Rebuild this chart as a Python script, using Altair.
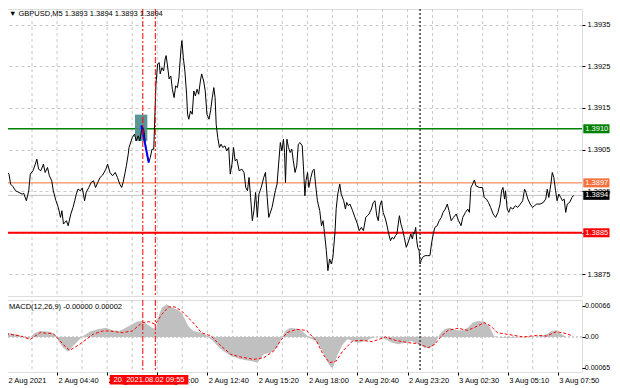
import json
import altair as alt
import pandas as pd

# ---------------- data ----------------
price_bar = [-0.6, 1.3, 2.3, 3.8, 5.5, 7.6, 9.7, 10.7, 12.4, 13.9, 14.9, 16.6, 18.1, 19.1, 20.2, 21.6, 23.3, 24.4,
             25.9, 27.1, 28.6, 29.6, 31.3, 32.8, 34.2, 35.1, 36.1, 38.0, 39.1, 40.8, 42.2, 43.3, 44.3, 45.4, 46.9,
             48.1, 49.6, 50.6, 52.3, 53.8, 55.3, 56.6, 58.0, 59.5, 61.2, 63.2, 64.3, 65.8, 67.5, 69.2, 70.6, 72.1,
             73.3, 74.2, 75.5, 76.3, 77.5, 78.0, 80.1, 81.5, 82.6, 83.9, 84.9, 86.4, 87.5, 88.5, 89.5, 90.6, 91.6,
             92.7, 93.8, 94.4, 95.2, 96.3, 97.3, 97.9, 99.0, 100.1, 101.1, 101.7, 102.6, 103.6, 104.7, 105.7, 106.8,
             107.8, 108.9, 109.9, 110.5, 111.2, 111.8, 112.7, 113.7, 114.8, 115.4, 116.2, 117.3, 118.4, 119.4, 120.4,
             121.5, 122.5, 123.6, 124.4, 125.7, 126.7, 127.8, 129.1, 130.1, 131.2, 132.2, 133.0, 133.7, 134.7, 135.8,
             136.8, 137.9, 139.3, 140.4, 141.7, 142.7, 143.8, 144.8, 145.8, 146.9, 148.4, 150.1, 151.5, 152.6, 153.7,
             154.7, 155.7, 156.8, 157.8, 158.9, 160.0, 161.0, 162.5, 164.1, 165.2, 166.3, 167.3, 169.4, 171.5, 172.6,
             173.6, 174.7, 175.7, 176.7, 177.4, 178.0, 178.9, 179.9, 181.0, 182.0, 183.0, 184.1, 185.2, 186.2, 187.3,
             188.7, 189.6, 190.4, 191.1, 192.1, 192.9, 194.2, 195.3, 196.3, 197.2, 198.4, 199.9, 201.0, 202.0, 203.0,
             204.1, 205.1, 206.2, 207.3, 208.3, 209.6, 210.4, 211.4, 212.7, 213.6, 215.2, 216.3, 217.1, 218.2, 219.2,
             220.9, 222.4, 224.0, 225.1, 226.5, 227.8, 229.3, 230.3, 231.4, 232.9, 234.1, 235.2, 236.3, 237.3, 238.3,
             239.4, 240.4, 241.9, 242.9, 244.0, 245.1, 246.1, 247.2, 248.2, 249.2, 250.8, 251.8, 253.0, 253.9, 255.2,
             256.0, 257.1, 258.1, 259.1, 259.8, 260.4, 261.2, 261.9, 262.5, 263.4, 264.0, 264.6, 265.6, 267.2, 268.6,
             270.3, 271.3, 272.4, 273.5, 274.9, 276.2, 277.6, 278.7, 280.1, 281.4, 282.5, 283.9, 285.4, 287.1, 288.6,
             290.2, 291.3, 293.0, 294.5, 295.5, 296.5, 297.6, 298.7, 299.7, 301.8, 303.9, 305.0, 306.4, 307.7, 309.1,
             310.7, 312.3, 313.8, 315.1, 316.1, 317.0, 318.0, 318.6, 319.7, 320.7, 321.8, 323.3, 324.9, 326.4, 328.1,
             329.6, 330.8, 331.7, 332.9, 334.4, 335.9, 337.1, 338.6, 340.7, 342.8, 344.3, 345.3, 346.3, 347.6, 348.5,
             349.5, 350.6, 351.6, 352.7, 353.9, 355.0, 356.1, 357.1, 358.1, 359.6, 361.1, 362.1]
price_close = [1.38997, 1.38991, 1.38967, 1.38961, 1.38951, 1.38947, 1.38943, 1.38945, 1.38927, 1.38951, 1.38991,
               1.38999, 1.39015, 1.39027, 1.39003, 1.38999, 1.39015, 1.38995, 1.39007, 1.38987, 1.38975, 1.38951,
               1.38927, 1.38911, 1.38887, 1.38903, 1.38871, 1.38879, 1.38867, 1.38895, 1.38911, 1.38927, 1.38943,
               1.38955, 1.38951, 1.38958, 1.38927, 1.38947, 1.38959, 1.38971, 1.38975, 1.38959, 1.38971, 1.38983,
               1.38989, 1.39003, 1.39015, 1.38995, 1.38987, 1.38995, 1.38983, 1.38967, 1.38959, 1.38971, 1.38995,
               1.39011, 1.39039, 1.39055, 1.39079, 1.39087, 1.39071, 1.39083, 1.39071, 1.39107, 1.39095, 1.39063,
               1.39039, 1.39019, 1.39031, 1.39051, 1.39051, 1.39119, 1.39208, 1.39256, 1.39259, 1.39232, 1.39247,
               1.39239, 1.39268, 1.39276, 1.39251, 1.39220, 1.39227, 1.39195, 1.39175, 1.39203, 1.39199, 1.39223,
               1.39256, 1.39292, 1.39312, 1.39271, 1.39239, 1.39183, 1.39135, 1.39123, 1.39143, 1.39135, 1.39191,
               1.39179, 1.39195, 1.39183, 1.39215, 1.39232, 1.39215, 1.39191, 1.39135, 1.39123, 1.39143, 1.39175,
               1.39199, 1.39175, 1.39111, 1.39079, 1.39055, 1.39063, 1.39055, 1.39059, 1.39047, 1.39055, 1.38991,
               1.39015, 1.39055, 1.39023, 1.39027, 1.38999, 1.39003, 1.38995, 1.38959, 1.38951, 1.38983, 1.38935,
               1.38879, 1.38903, 1.38947, 1.38887, 1.38943, 1.38959, 1.38983, 1.38995, 1.38935, 1.38887, 1.38911,
               1.38951, 1.38967, 1.39015, 1.39067, 1.39047, 1.39075, 1.39043, 1.38971, 1.39075, 1.39055, 1.39043,
               1.39051, 1.39023, 1.38995, 1.39011, 1.39063, 1.39067, 1.39059, 1.38999, 1.38939, 1.38975, 1.38995,
               1.38959, 1.38983, 1.38999, 1.39003, 1.38967, 1.38927, 1.38903, 1.38867, 1.38879, 1.38847, 1.38807,
               1.38759, 1.38787, 1.38775, 1.38791, 1.38850, 1.38908, 1.38943, 1.38967, 1.38943, 1.38927, 1.38907,
               1.38923, 1.38915, 1.38919, 1.38903, 1.38887, 1.38871, 1.38855, 1.38863, 1.38855, 1.38887, 1.38891,
               1.38895, 1.38907, 1.38923, 1.38927, 1.38891, 1.38879, 1.38915, 1.38927, 1.38899, 1.38883, 1.38867,
               1.38847, 1.38831, 1.38839, 1.38835, 1.38843, 1.38847, 1.38891, 1.38871, 1.38855, 1.38839, 1.38815,
               1.38823, 1.38835, 1.38847, 1.38835, 1.38851, 1.38847, 1.38863, 1.38831, 1.38815, 1.38807, 1.38775,
               1.38783, 1.38791, 1.38795, 1.38795, 1.38795, 1.38823, 1.38847, 1.38863, 1.38867, 1.38879, 1.38887,
               1.38899, 1.38907, 1.38919, 1.38903, 1.38879, 1.38887, 1.38895, 1.38879, 1.38867, 1.38887, 1.38899,
               1.38907, 1.38899, 1.38959, 1.38967, 1.38977, 1.38963, 1.38959, 1.38959, 1.38935, 1.38931, 1.38923,
               1.38911, 1.38895, 1.38887, 1.38899, 1.38919, 1.38951, 1.38959, 1.38931, 1.38951, 1.38907, 1.38899,
               1.38911, 1.38907, 1.38915, 1.38911, 1.38919, 1.38927, 1.38955, 1.38947, 1.38931, 1.38919, 1.38911,
               1.38915, 1.38919, 1.38919, 1.38923, 1.38931, 1.38955, 1.38935, 1.38967, 1.38995, 1.38983, 1.38951,
               1.38927, 1.38943, 1.38935, 1.38927, 1.38931, 1.38899, 1.38919, 1.38923, 1.38935, 1.38940]

hist_bar = [-0.6, 4.4, 9.7, 13.9, 17.0, 21.2, 27.5, 30.7, 32.8, 35.9, 39.1, 42.2, 45.4, 48.6, 52.8, 58.0, 63.3, 67.5,
            71.7, 75.9, 80.1, 83.2, 86.4, 89.5, 92.7, 95.2, 96.9, 99.0, 102.1, 105.3, 108.5, 111.6, 113.7, 115.8,
            119.0, 124.2, 128.4, 132.6, 136.8, 143.1, 149.4, 155.7, 160.0, 164.2, 168.4, 172.6, 175.1, 177.8, 181.0,
            187.3, 193.6, 196.7, 199.9, 203.0, 205.1, 207.2, 208.7, 211.4, 214.6, 217.7, 220.9, 225.1, 229.3, 233.5,
            237.7, 241.9, 246.1, 250.3, 254.5, 258.7, 262.9, 267.1, 270.3, 273.4, 276.6, 279.7, 282.9, 287.1, 291.3,
            294.5, 297.6, 300.8, 305.0, 308.1, 311.3, 315.5, 323.9, 332.3, 340.7, 344.9, 348.0, 351.2, 354.4, 357.5,
            361.7]
hist_val = [0.000092, 0.000071, 0.000021, -0.000050, 0.000071, 0.000128, 0.000114, 0.000057, -0.000085, -0.000227,
            -0.000312, -0.000192, -0.000085, 0.000021, 0.000114, 0.000163, 0.000199, 0.000142, 0.000128, 0.000199,
            0.000270, 0.000327, 0.000341, 0.000270, 0.000199, 0.000163, 0.000447, 0.000625, 0.000696, 0.000625,
            0.000589, 0.000518, 0.000376, 0.000234, 0.000128, 0.000092, 0.000021, -0.000121, -0.000263, -0.000405,
            -0.000476, -0.000511, -0.000547, -0.000369, -0.000334, -0.000227, -0.000050, 0.000128, 0.000199, 0.000163,
            -0.000028, -0.000071, -0.000192, -0.000405, -0.000547, -0.000653, -0.000618, -0.000369, -0.000156,
            -0.000050, -0.000085, -0.000121, -0.000085, -0.000014, 0.000007, -0.000050, -0.000121, -0.000156,
            -0.000121, -0.000085, -0.000156, -0.000227, -0.000241, -0.000156, 0.000057, 0.000163, 0.000199, 0.000142,
            0.000142, 0.000199, 0.000305, 0.000341, 0.000327, 0.000234, 0.000021, -0.000014, -0.000014, 0.000000,
            0.000014, 0.000057, 0.000128, 0.000142, 0.000057, 0.000000, 0.000000]

signal_bar = [-0.6, 8.6, 14.9, 21.2, 29.6, 38.0, 40.1, 46.5, 54.9, 61.2, 65.4, 73.8, 80.1, 86.4, 90.6, 94.8, 99.0,
              103.2, 107.4, 111.6, 115.8, 120.0, 124.2, 130.5, 136.8, 143.1, 149.4, 157.8, 164.2, 170.5, 174.7,
              178.9, 185.2, 191.5, 197.8, 202.0, 206.2, 210.4, 214.6, 220.9, 227.2, 233.5, 241.9, 248.2, 256.6,
              262.9, 269.2, 273.4, 277.6, 281.9, 288.2, 294.5, 300.8, 305.0, 309.2, 313.4, 319.7, 330.2, 338.6,
              344.9, 351.2, 357.5, 361.7]
signal_val = [0.000071, 0.000021, -0.000050, 0.000092, 0.000071, -0.000227, -0.000284, -0.000156, 0.000057,
              0.000128, 0.000128, 0.000092, 0.000128, 0.000305, 0.000327, 0.000270, 0.000483, 0.000639, 0.000639,
              0.000554, 0.000412, 0.000270, 0.000092, 0.000021, -0.000192, -0.000369, -0.000426, -0.000476,
              -0.000440, -0.000298, -0.000085, 0.000092, 0.000163, 0.000140, -0.000085, -0.000369, -0.000547,
              -0.000511, -0.000298, -0.000085, -0.000071, -0.000099, 0.000000, -0.000071, -0.000121, -0.000142,
              -0.000227, -0.000156, 0.000021, 0.000142, 0.000185, 0.000142, 0.000234, 0.000305, 0.000234, 0.000092,
              0.000057, 0.000000, 0.000035, 0.000021, 0.000114, 0.000071, 0.000021]

time_label_bars = [0, 32, 64, 96, 128, 160, 192, 224, 256, 288, 320, 352]
time_labels = ["2 Aug 2021", "2 Aug 04:40", "2 Aug 07:20", "2 Aug 10:00", "2 Aug 12:40", "2 Aug 15:20",
               "2 Aug 18:00", "2 Aug 20:40", "2 Aug 23:20", "3 Aug 02:30", "3 Aug 05:10", "3 Aug 07:50"]
grid_bars = [0, 16, 32, 48, 64, 80, 96, 112, 128, 144, 160, 176, 192, 208, 224, 240, 256, 272, 288, 304, 320,
             336, 352]
price_ticks = [1.3875, 1.3885, 1.3895, 1.3905, 1.3915, 1.3925, 1.3935]
macd_ticks = [0.00066, 0.0, -0.00065]
macd_tick_labels = ["0.00066", "0.00", "-0.00065"]

level_prices = [1.3910, 1.3897, 1.3894, 1.3885]
level_labels = ["1.3910", "1.3897", "1.3894", "1.3885"]

zone_bar = [81.8, 89.7]
zone_price = [1.39071, 1.39134]
arrow_bar = [85.9, 90.6]
arrow_price = [1.39108, 1.39019]

red_vline_bars = [86.8, 94.8]
red_vline_labels = ["2021.08.02 09:15", "2021.08.02 09:55"]
day_sep_bar = [264.0]

title_text = "\u25bc GBPUSD,M5  1.3893 1.3894 1.3893 1.3894"
macd_text = "MACD(12,26,9) -0.00000 0.00002"

# ---------------- layout / style ----------------
W = 576
H1 = 287
H2 = 72
FONT = "Liberation Sans"
FS = 7.5
GRID = "#c8c8c8"

xs = alt.Scale(domain=[-0.63, 367.5], nice=False, zero=False)
ys1 = alt.Scale(domain=[1.38698, 1.39388], nice=False, zero=False)
ys2 = alt.Scale(domain=[-0.000745, 0.000787], nice=False, zero=False)

# the 1.3885 label is fully covered by the red level box in the reference
y1_axis = alt.Axis(orient="right", values=price_ticks, grid=True, gridColor=GRID,
                   labelExpr="abs(datum.value - 1.3885) < 0.00001 ? '' : format(datum.value, '.4f')",
                   gridDash=[3, 3], gridWidth=1, domain=False, ticks=True, tickSize=3, tickColor="#000000",
                   labelColor="#000000", labelFont=FONT, labelFontSize=FS, labelPadding=2, title=None)
y2_axis = alt.Axis(orient="right", values=macd_ticks, labels=False, grid=False, domain=False, ticks=True,
                   tickSize=3, tickColor="#000000", title=None)
label_expr = json.dumps(time_labels) + "[round(datum.value / 32)]"
x2_axis = alt.Axis(orient="bottom", values=time_label_bars, labelExpr=label_expr, grid=False, domain=False,
                   ticks=True, tickSize=3, tickColor="#000000", labelColor="#000000", labelFont=FONT,
                   labelFontSize=FS, labelAlign="left", labelBaseline="top", labelPadding=1, labelOffset=1,
                   labelOverlap=False, labelFlush=False, labelBound=False, title=None)

df_price = pd.DataFrame({"bar": price_bar, "close": price_close})
df_grid = pd.DataFrame({"bar": grid_bars})
df_hist = pd.DataFrame({"bar": hist_bar, "v": hist_val})
df_sig = pd.DataFrame({"bar": signal_bar, "v": signal_val})
df_red = pd.DataFrame({"bar": red_vline_bars, "label": red_vline_labels})
df_day = pd.DataFrame({"bar": day_sep_bar})
df_zone = pd.DataFrame({"b1": [zone_bar[0]], "b2": [zone_bar[1]], "p1": [zone_price[0]], "p2": [zone_price[1]]})
df_arrow = pd.DataFrame({"bar": arrow_bar, "price": arrow_price})

X1 = alt.X("bar:Q", scale=xs, axis=None)
X2 = alt.X("bar:Q", scale=xs, axis=x2_axis)

# ---------------- main price panel ----------------
vgrid1 = alt.Chart(df_grid).mark_rule(color=GRID, strokeDash=[3, 3], strokeWidth=1).encode(x=X1)

line_colors = ["#008000", "#f5703c", "#c0c0c0", "#ff0000"]
box_colors = ["#008000", "#f5703c", "#000000", "#ff0000"]
line_widths = [1.5, 1, 1, 2]

level_rules = []
level_boxes = []
for p, lab, lc, bc, lw in zip(level_prices, level_labels, line_colors, box_colors, line_widths):
    d = pd.DataFrame({"price": [p], "label": [lab]})
    level_rules.append(
        alt.Chart(d).mark_rule(color=lc, strokeWidth=lw).encode(
            y=alt.Y("price:Q", scale=ys1, axis=y1_axis)))
    level_boxes.append(
        alt.Chart(d).mark_rect(color=bc, yOffset=-4.5, y2Offset=4.5).encode(
            x=alt.value(W + 1.3), x2=alt.value(W + 27.5),
            y=alt.Y("price:Q", scale=ys1, axis=y1_axis), y2="price:Q"))
    level_boxes.append(
        alt.Chart(d).mark_text(color="#ffffff", font=FONT, fontSize=FS, align="left", baseline="middle").encode(
            x=alt.value(W + 3.3), y=alt.Y("price:Q", scale=ys1, axis=y1_axis), text="label:N"))

zone = alt.Chart(df_zone).mark_rect(color="#4d8c8c", opacity=0.92).encode(
    x=alt.X("b1:Q", scale=xs, axis=None), x2="b2:Q",
    y=alt.Y("p1:Q", scale=ys1, axis=y1_axis), y2="p2:Q")

price_line = alt.Chart(df_price).mark_line(color="#000000", strokeWidth=1).encode(
    x=X1, y=alt.Y("close:Q", scale=ys1, axis=y1_axis))

arrow = alt.Chart(df_arrow).mark_line(color="#0000ff", strokeWidth=2).encode(
    x=X1, y=alt.Y("price:Q", scale=ys1, axis=y1_axis))

red_v1 = alt.Chart(df_red).mark_rule(color="#ff0000", strokeDash=[6, 2, 2, 2], strokeWidth=1).encode(x=X1)
day_v1 = alt.Chart(df_day).mark_rule(color="#404040", strokeDash=[2, 2], strokeWidth=1.5).encode(x=X1)

title = alt.Chart(pd.DataFrame({"t": [title_text]})).mark_text(
    font=FONT, fontSize=FS, align="left", baseline="middle", color="#000000").encode(
    x=alt.value(3), y=alt.value(5), text="t:N")

main = alt.layer(vgrid1, *level_rules, zone, price_line, arrow, red_v1, day_v1, *level_boxes, title).properties(
    width=W, height=H1)

# ---------------- MACD panel ----------------
vgrid2 = alt.Chart(df_grid).mark_rule(color=GRID, strokeDash=[3, 3], strokeWidth=1).encode(x=X2)

hist = alt.Chart(df_hist).mark_area(color="#c0c0c0", opacity=1).encode(
    x=X2, y=alt.Y("v:Q", scale=ys2, axis=y2_axis), y2=alt.datum(0))

zero_line = alt.Chart(pd.DataFrame({"v": [0.0]})).mark_rule(
    color="#a8a8a8", strokeDash=[2, 2], strokeWidth=1).encode(y=alt.Y("v:Q", scale=ys2, axis=y2_axis))

sig = alt.Chart(df_sig).mark_line(color="#ff0000", strokeDash=[3, 2], strokeWidth=1).encode(
    x=X2, y=alt.Y("v:Q", scale=ys2, axis=y2_axis))

red_v2 = alt.Chart(df_red).mark_rule(color="#ff0000", strokeDash=[6, 2, 2, 2], strokeWidth=1).encode(x=X2)
day_v2 = alt.Chart(df_day).mark_rule(color="#404040", strokeDash=[2, 2], strokeWidth=1.5).encode(x=X2)

macd_title = alt.Chart(pd.DataFrame({"t": [macd_text]})).mark_text(
    font=FONT, fontSize=FS, align="left", baseline="middle", color="#000000").encode(
    x=alt.value(3), y=alt.value(6.7), text="t:N")

df_mt = pd.DataFrame({"v": macd_ticks, "label": macd_tick_labels})
mt_pos = alt.Chart(df_mt).transform_filter("datum.v >= 0").mark_text(
    font=FONT, fontSize=7, align="left", baseline="middle", color="#000000").encode(
    x=alt.value(W + 3), y=alt.Y("v:Q", scale=ys2, axis=y2_axis), text="label:N")
mt_neg = alt.Chart(df_mt).transform_filter("datum.v < 0").mark_text(
    font=FONT, fontSize=7, align="left", baseline="middle", color="#000000").encode(
    x=alt.value(W + 0.5), y=alt.Y("v:Q", scale=ys2, axis=y2_axis), text="label:N")

time_box = alt.Chart(df_red).mark_rect(color="#ff0000", xOffset=-33, x2Offset=33).encode(
    x=X2, x2="bar:Q", y=alt.value(75), y2=alt.value(84.5))
time_text = alt.Chart(df_red).mark_text(
    font=FONT, fontSize=FS, align="center", baseline="middle", color="#ffffff").encode(
    x=X2, y=alt.value(79.8), text="label:N")

# draw the two time labels one after the other so the later one covers the earlier
time_box1 = time_box.transform_filter(alt.datum.bar < 90)
time_text1 = time_text.transform_filter(alt.datum.bar < 90)
time_box2 = time_box.transform_filter(alt.datum.bar > 90)
time_text2 = time_text.transform_filter(alt.datum.bar > 90)

macd = alt.layer(vgrid2, zero_line, hist, sig, red_v2, day_v2, macd_title, mt_pos, mt_neg,
                 time_box1, time_text1, time_box2, time_text2).properties(width=W, height=H2)

chart = alt.vconcat(main, macd, spacing=0,
                    padding={"left": -5, "top": -1, "right": 0, "bottom": 0}).configure_view(
    stroke="#808080", strokeWidth=1.2
).configure(background="#ffffff")

chart.save("out.html", embed_options={"renderer": "svg", "actions": False})
